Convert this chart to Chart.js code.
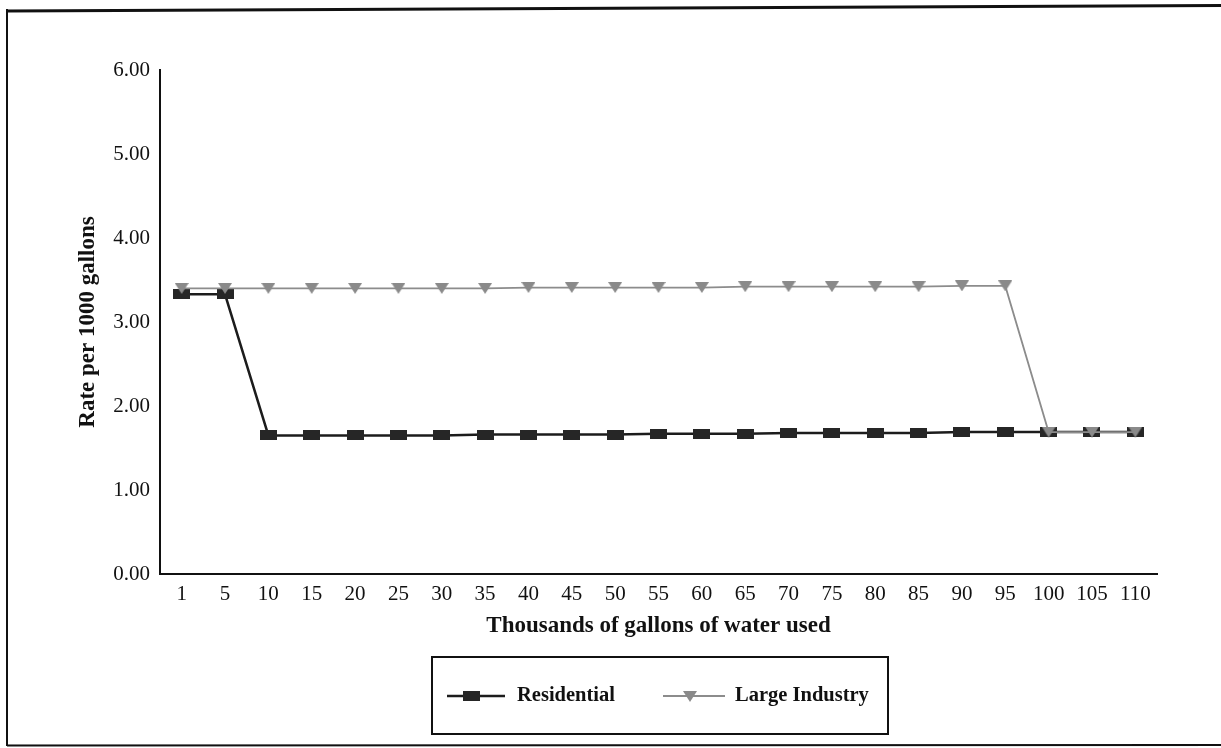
<!DOCTYPE html>
<html>
<head>
<meta charset="utf-8">
<script src="https://cdn.jsdelivr.net/npm/chart.js@4"></script>
<style>
  html, body { margin: 0; padding: 0; background: #fff; }
  #wrap { width: 1221px; height: 748px; }
</style>
</head>
<body>
<div id="wrap"><canvas id="rateChart" width="1221" height="748"></canvas></div>
<script>
const gallonsUsed = ["1", "5", "10", "15", "20", "25", "30", "35", "40", "45", "50", "55",
  "60", "65", "70", "75", "80", "85", "90", "95", "100", "105", "110"];
const residentialRate = [3.33, 3.33, 1.65, 1.65, 1.65, 1.65, 1.65, 1.66, 1.66, 1.66, 1.66, 1.67,
  1.67, 1.67, 1.68, 1.68, 1.68, 1.68, 1.69, 1.69, 1.69, 1.69, 1.69];
const largeIndustryRate = [3.40, 3.40, 3.40, 3.40, 3.40, 3.40, 3.40, 3.40, 3.41, 3.41, 3.41, 3.41,
  3.41, 3.42, 3.42, 3.42, 3.42, 3.42, 3.43, 3.43, 1.69, 1.69, 1.69];
const yTicks = [0, 1, 2, 3, 4, 5, 6];

const serif = "'Liberation Serif', 'Times New Roman', serif";

// marker images, the scanned chart uses flat squares and down triangles
function squareMarker() {
  const c = document.createElement("canvas");
  c.width = 17; c.height = 10;
  const g = c.getContext("2d");
  g.fillStyle = "#262626";
  g.fillRect(0, 0, 17, 10);
  return c;
}
function triangleMarker() {
  const c = document.createElement("canvas");
  c.width = 14; c.height = 11;
  const g = c.getContext("2d");
  g.fillStyle = "#8a8a8a";
  g.beginPath();
  g.moveTo(0, 0); g.lineTo(14, 0); g.lineTo(7, 11); g.closePath();
  g.fill();
  return c;
}
const sq = squareMarker();
const tri = triangleMarker();

const frameAndLegend = {
  id: "frameAndLegend",
  afterDraw(chart) {
    const ctx = chart.ctx;
    ctx.save();
    ctx.strokeStyle = "#111";
    // outer frame
    ctx.lineWidth = 3;
    ctx.beginPath(); ctx.moveTo(7, 11); ctx.lineTo(1221, 5.5); ctx.stroke();
    ctx.lineWidth = 2;
    ctx.beginPath(); ctx.moveTo(7, 9); ctx.lineTo(7, 746); ctx.stroke();
    ctx.beginPath(); ctx.moveTo(7, 745.5); ctx.lineTo(1221, 745); ctx.stroke();

    // legend box
    ctx.strokeRect(432, 657, 456, 77);
    const ds = chart.data.datasets;
    const y = 696;
    ctx.font = "bold 20.5px " + serif;
    ctx.textBaseline = "middle";
    ctx.fillStyle = "#111";

    ctx.strokeStyle = ds[0].borderColor;
    ctx.lineWidth = ds[0].borderWidth;
    ctx.beginPath(); ctx.moveTo(447, y); ctx.lineTo(505, y); ctx.stroke();
    ctx.drawImage(sq, 463, y - 5);
    ctx.fillText(ds[0].label, 517, y);

    ctx.strokeStyle = ds[1].borderColor;
    ctx.lineWidth = ds[1].borderWidth;
    ctx.beginPath(); ctx.moveTo(663, y); ctx.lineTo(725, y); ctx.stroke();
    ctx.drawImage(tri, 683, y - 5);
    ctx.fillText(ds[1].label, 735, y);
    ctx.restore();
  }
};

const ctx = document.getElementById("rateChart").getContext("2d");
new Chart(ctx, {
  type: "line",
  data: {
    labels: gallonsUsed,
    datasets: [
      {
        label: "Residential",
        data: residentialRate,
        borderColor: "#1c1c1c",
        borderWidth: 2.5,
        pointStyle: sq,
        order: 1,
      },
      {
        label: "Large Industry",
        data: largeIndustryRate,
        borderColor: "#8c8c8c",
        borderWidth: 1.8,
        pointStyle: tri,
        order: 0,
      },
    ],
  },
  options: {
    responsive: false,
    animation: false,
    layout: { padding: { top: 70, left: 67, right: 64, bottom: 110 } },
    scales: {
      x: {
        offset: true,
        grid: { display: false, drawTicks: false },
        border: { display: true, color: "#111", width: 2 },
        ticks: { color: "#111", padding: 10, font: { family: serif, size: 21, lineHeight: 1 } },
        title: {
          display: true,
          text: "Thousands of gallons of water used",
          color: "#111",
          padding: { top: 0, bottom: 0 },
          font: { family: serif, size: 23, weight: "bold", lineHeight: 1 },
        },
      },
      y: {
        min: 0,
        max: 6,
        afterFit(scale) { scale.width = 93; },
        afterBuildTicks(scale) { scale.ticks = yTicks.map((v) => ({ value: v })); },
        grid: { display: false, drawTicks: false },
        border: { display: true, color: "#111", width: 2 },
        ticks: {
          color: "#111",
          padding: 10,
          font: { family: serif, size: 21 },
          callback: (v) => Number(v).toFixed(2),
        },
        title: {
          display: true,
          text: "Rate per 1000 gallons",
          color: "#111",
          padding: { top: 7, bottom: 0 },
          font: { family: serif, size: 23, weight: "bold" },
        },
      },
    },
    plugins: {
      legend: { display: false },
      tooltip: { enabled: false },
    },
  },
  plugins: [frameAndLegend],
});
</script>
</body>
</html>
